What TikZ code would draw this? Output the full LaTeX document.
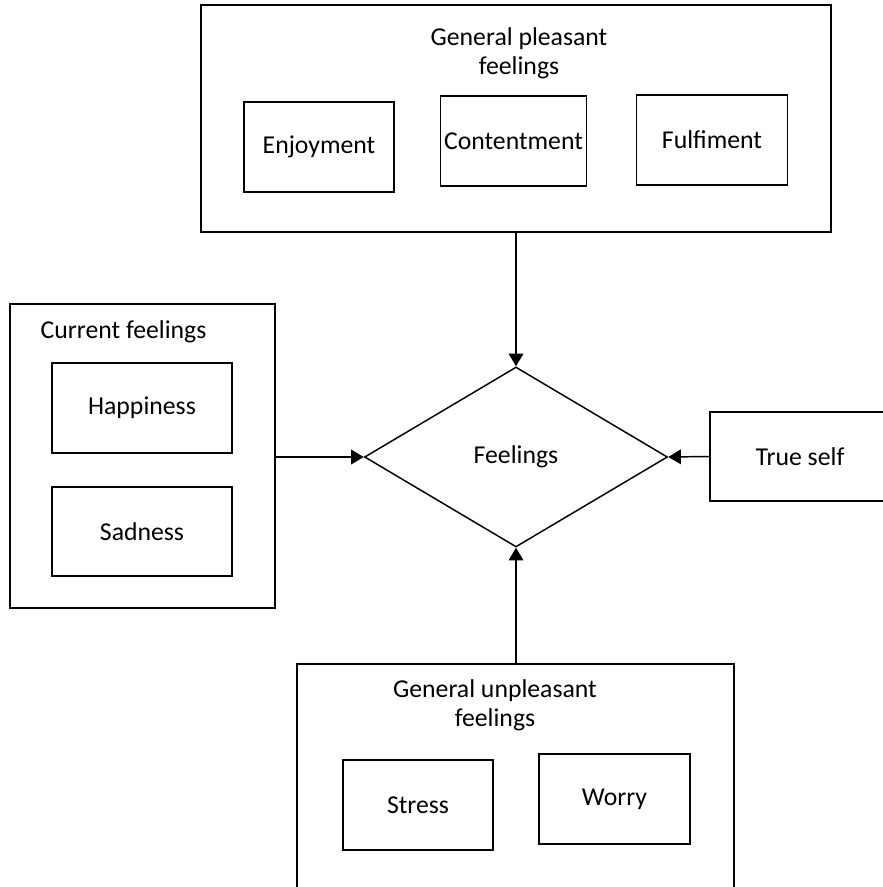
\documentclass[tikz,border=0pt]{standalone}
\usepackage{fontspec}
\setmainfont{Carlito}
\usetikzlibrary{shapes.geometric,arrows.meta}
\begin{document}
\begin{tikzpicture}[x=0.75pt,y=-0.75pt,
  line width=1.1pt,
  every node/.style={font=\fontsize{19.3}{21.5}\selectfont},
  frame/.style={draw,rectangle,inner sep=0pt},
  item/.style={draw,rectangle,inner sep=0pt},
  caption/.style={align=center,inner sep=0pt},
  link/.style={-{Triangle[length=9.5pt,width=11pt]}}]
\useasboundingbox (0,0) rectangle (882,887);

% general pleasant feelings
\node[frame,minimum width=472.5pt,minimum height=170.25pt] (pleasant) at (516,118.5) {};
\node[caption] (ptitle) at (519,53) {General pleasant\\feelings};
\node[item,minimum width=112.5pt,minimum height=67.5pt] (enjoy) at (319,147) {Enjoyment};
\node[item,minimum width=109.5pt,minimum height=67.5pt] (content) at (513.5,141) {Contentment};
\node[item,minimum width=113.25pt,minimum height=67.5pt] (fulfil) at (712,140) {Fulfiment};

% central decision
\node[draw,diamond,aspect=1.683,inner sep=0pt,minimum width=227.25pt,minimum height=135pt] (feel) at (516,457) {Feelings};

% current feelings
\node[frame,minimum width=198.75pt,minimum height=228pt] (current) at (142.5,456) {};
\node[caption,anchor=west] (ctitle) at (40,332) {Current feelings};
\node[item,minimum width=135pt,minimum height=67.5pt] (happy) at (142,408) {Happiness};
\node[item,minimum width=135pt,minimum height=66.75pt] (sad) at (142,531.5) {Sadness};

% true self
\node[frame,minimum width=135pt,minimum height=66.75pt] (true) at (800,456.5) {True self};

% general unpleasant feelings
\node[frame,minimum width=327.75pt,minimum height=180pt] (unpleasant) at (515.5,784) {};
\node[caption] (utitle) at (495,705) {General unpleasant\\feelings};
\node[item,minimum width=112.5pt,minimum height=67.5pt] (stress) at (418,805) {Stress};
\node[item,minimum width=113.25pt,minimum height=67.5pt] (worry) at (614.5,799) {Worry};

% connectors
\draw[link] (pleasant.south -| feel.north) -- (feel.north);
\draw[link] (current.east |- feel.west) -- (feel.west);
\draw[link] (true.west) -- (feel.east);
\draw[link] (unpleasant.north -| feel.south) -- (feel.south);
\end{tikzpicture}
\end{document}
